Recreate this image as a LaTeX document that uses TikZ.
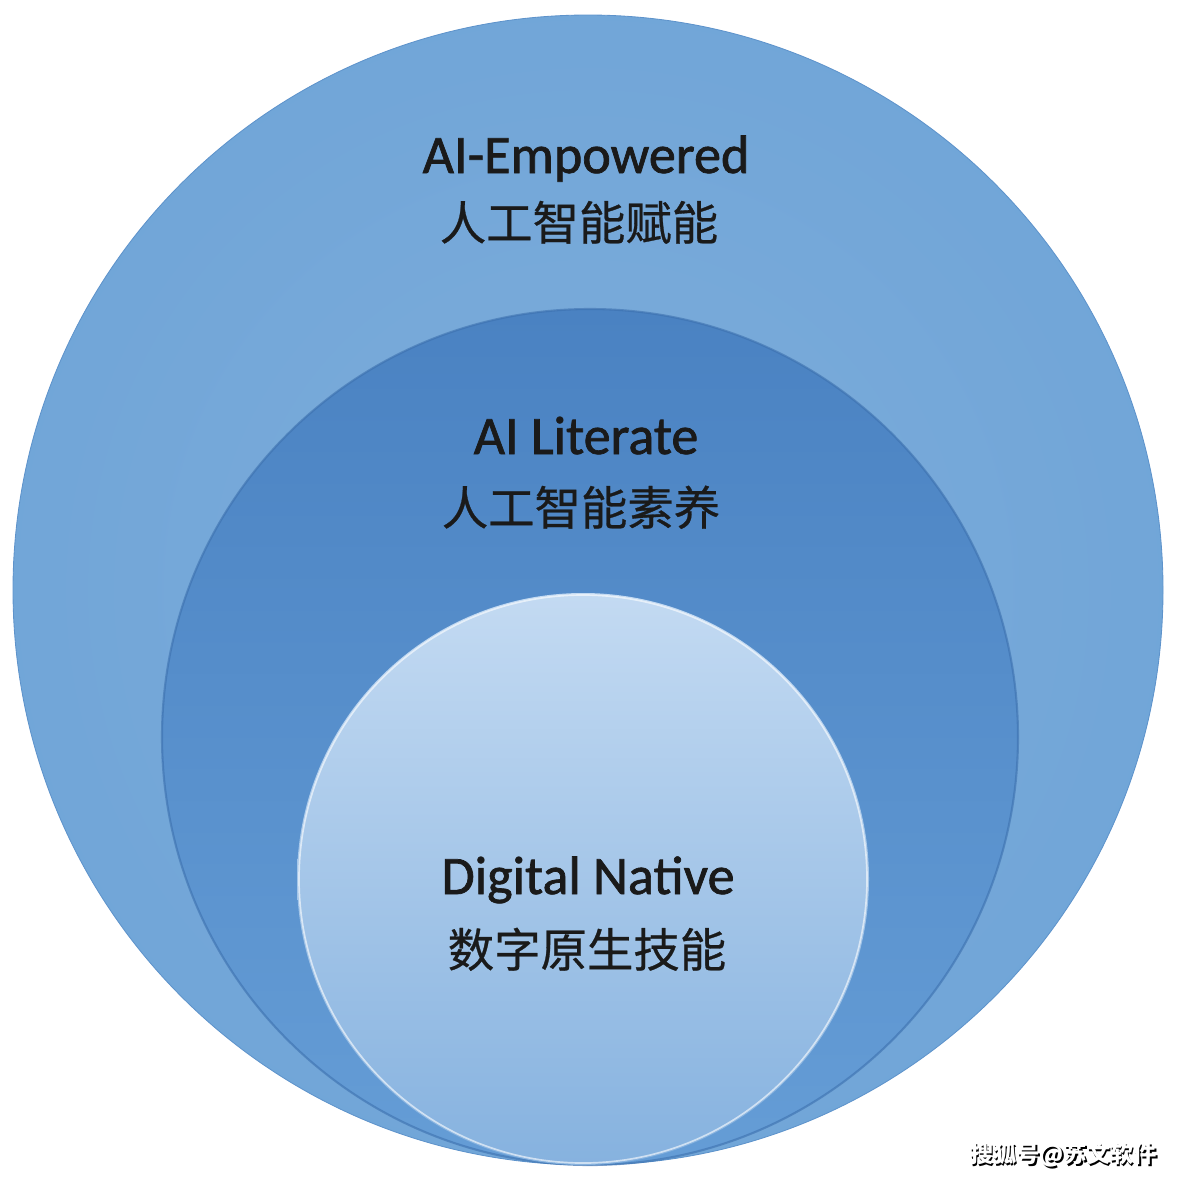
\documentclass[tikz,border=0pt]{standalone}
\usepackage{fontspec}
\setmainfont{Carlito}
\newfontfamily\enfat{Carlito}[FakeBold=1.3]
\newfontfamily\cjk{Noto Sans CJK SC}
\newfontfamily\cjkfat{Noto Sans CJK SC}[FakeBold=0.6]
\definecolor{outerblue}{HTML}{6FA4D7}
\definecolor{outeredge}{HTML}{5E93CB}
\definecolor{midtop}{HTML}{4A82C2}
\definecolor{midbottom}{HTML}{659DD6}
\definecolor{midedge}{HTML}{3C70AE}
\definecolor{innertop}{HTML}{C3DAF2}
\definecolor{innerbottom}{HTML}{86B2DF}
\definecolor{labeltext}{HTML}{1A1A1A}
\pgfdeclareradialshading{outerglow}{\pgfpoint{0bp}{0bp}}{%
  color(0bp)=(outerblue!90!white); color(30bp)=(outerblue);
  color(47bp)=(outerblue); color(50bp)=(outeredge)}
\tikzset{
  entext/.style={font=\enfat\fontsize{38.5}{42}\selectfont, text=labeltext, anchor=base, inner sep=0pt},
  cntext/.style={font=\cjkfat\fontsize{33}{36}\selectfont, text=labeltext, anchor=base, inner sep=0pt},
  marktext/.style={font=\cjk\bfseries\fontsize{16.5}{18}\selectfont, anchor=base, inner sep=0pt}
}
\begin{document}
\begin{tikzpicture}[x=0.025cm, y=-0.025cm]
    \useasboundingbox (0,0) rectangle (1183,1179);
    % Draw outer circle
    \shade[shading=outerglow] (588,590) circle (575);
    \draw[color=outeredge, line width=0.6pt] (588,590) circle (575);
    % Draw middle circle
    \shade[top color=midtop, bottom color=midbottom] (590,737) circle (428);
    \draw[color=midedge, line width=1.5pt, opacity=0.6] (590,737) circle (428);
    % Draw inner circle
    \shade[top color=innertop, bottom color=innerbottom] (583,879) circle (286);
    \draw[color=white, line width=1.2pt, opacity=0.6] (583,879) circle (284);
    % Labels of the three levels
    \node[entext] (empEN) at (586,173) {AI-Empowered};
    \node[cntext] (empCN) at (579,240) {人工智能赋能};
    \node[entext] (litEN) at (586,454) {AI Literate};
    \node[cntext] (litCN) at (581,525) {人工智能素养};
    \node[entext] (natEN) at (588,894) {Digital Native};
    \node[cntext] (natCN) at (587,967) {数字原生技能};
    % Watermark
    \node[marktext, text=black] (markshadow) at (1065,1164) {搜狐号@苏文软件};
    \node[marktext, text=white] (mark) at (1063.5,1162.5) {搜狐号@苏文软件};
\end{tikzpicture}
\end{document}
